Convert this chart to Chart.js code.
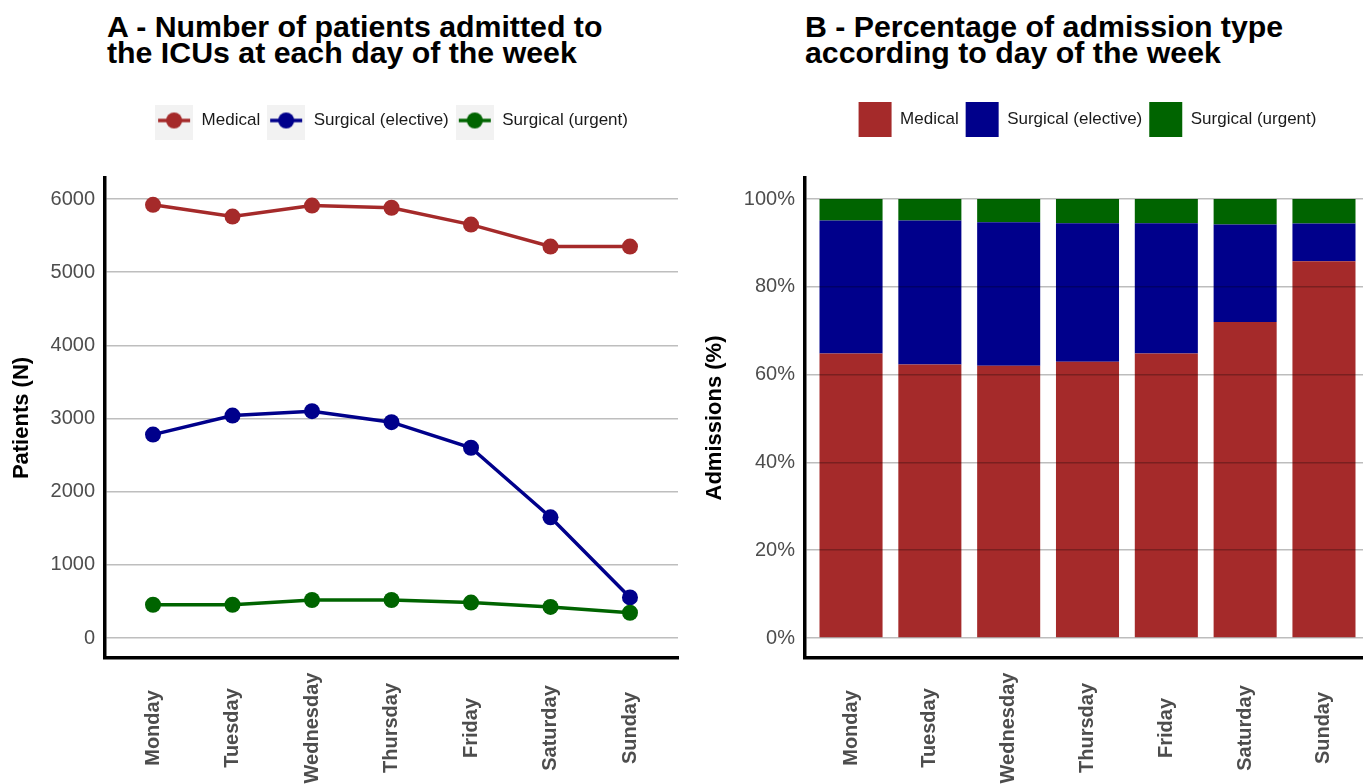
<!DOCTYPE html>
<html>
<head>
<meta charset="utf-8">
<script src="https://cdn.jsdelivr.net/npm/chart.js@4.4.1/dist/chart.umd.min.js"></script>
<style>
html, body { margin: 0; padding: 0; background: #fff; width: 1363px; height: 784px; overflow: hidden; position: relative; font-family: 'Liberation Sans', Arial, sans-serif; }
.ttl { position: absolute; top: 14px; font-weight: bold; font-size: 30.3px; line-height: 26px; color: #000; white-space: nowrap; }
.panel { position: absolute; top: 0; width: 690px; height: 784px; }
</style>
</head>
<body>
<div class="ttl" style="left:107px">A - Number of patients admitted to<br>the ICUs at each day of the week</div>
<div class="ttl" style="left:805px">B - Percentage of admission type<br>according to day of the week</div>
<div class="panel" style="left:0"><canvas id="chartA"></canvas></div>
<div class="panel" style="left:700px"><canvas id="chartB"></canvas></div>
<script>
"use strict";

var days = ['Monday', 'Tuesday', 'Wednesday', 'Thursday', 'Friday', 'Saturday', 'Sunday'];
var seriesNames = ['Medical', 'Surgical (elective)', 'Surgical (urgent)'];

// panel A - patients (N)
var medicalN = [5920, 5760, 5910, 5880, 5650, 5350, 5350];
var electiveN = [2780, 3040, 3100, 2950, 2600, 1650, 555];
var urgentN = [455, 455, 520, 520, 485, 425, 345];
var countTicks = [0, 1000, 2000, 3000, 4000, 5000, 6000];

// panel B - admissions (%)
var medicalPct = [64.8, 62.3, 62.0, 62.9, 64.8, 72.0, 85.8];
var electivePct = [30.3, 32.8, 32.7, 31.6, 29.7, 22.2, 8.6];
var urgentPct = [4.9, 4.9, 5.3, 5.5, 5.5, 5.8, 5.6];
var pctTicks = [0, 20, 40, 60, 80, 100];

var colors = ['#a52a2a', '#00008b', '#006400'];
var FONT = "'Liberation Sans', Arial, sans-serif";
var tickGray = '#4d4d4d';

Chart.defaults.font.family = FONT;
Chart.defaults.animation = false;

function toPoints(arr) {
	return arr.map(function (v, i) { return { x: i, y: v }; });
}

// legend key like ggplot: grey box, line and dot
function legendKey(color) {
	var c = document.createElement('canvas');
	c.width = 38; c.height = 38;
	var g = c.getContext('2d');
	g.fillStyle = '#f2f2f2';
	g.fillRect(0, 0, 38, 38);
	g.strokeStyle = color; g.lineWidth = 3.5;
	g.beginPath(); g.moveTo(3, 19); g.lineTo(35, 19); g.stroke();
	g.fillStyle = color;
	g.beginPath(); g.arc(19, 19, 8, 0, Math.PI * 2); g.fill();
	return c;
}
var keys = colors.map(legendKey);

// extra room under the legend
function legendGap(extra) {
	return {
		id: 'legendGap',
		beforeLayout: function (chart) {
			var lg = chart.legend;
			if (lg && !lg._gapDone) {
				var fit = lg.fit;
				lg.fit = function () { fit.call(this); this.height += extra; };
				lg._gapDone = true;
			}
		}
	};
}

// day names, rotated and centred under each category
var dayLabels = {
	id: 'dayLabels',
	afterDraw: function (chart) {
		var ctx = chart.ctx, xs = chart.scales.x;
		var mid = chart.chartArea.bottom + 70;
		ctx.save();
		ctx.font = 'bold 20px ' + FONT;
		ctx.fillStyle = tickGray;
		ctx.textAlign = 'center';
		ctx.textBaseline = 'middle';
		days.forEach(function (d, i) {
			ctx.save();
			ctx.translate(xs.getPixelForValue(i), mid);
			ctx.rotate(-Math.PI / 2);
			ctx.fillText(d, 0, 0);
			ctx.restore();
		});
		ctx.restore();
	}
};

function xScale(lo, hi) {
	return {
		type: 'linear', min: lo, max: hi, offset: false,
		ticks: { display: false, stepSize: 1, includeBounds: false },
		grid: { display: false, drawTicks: false, offset: false },
		border: { color: '#000', width: 3.5 },
		afterFit: function (s) { s.height = 126; }
	};
}

function yScale(lo, hi, step, tickList, fmt, titleText, titlePad, gridOpts, borderZ) {
	return {
		min: lo, max: hi,
		afterBuildTicks: function (s) {
			s.ticks = tickList.map(function (v) { return { value: v }; });
		},
		ticks: { stepSize: step, includeBounds: false, color: tickGray, padding: 10, font: { size: 20 }, callback: fmt },
		grid: gridOpts,
		border: { color: '#000', width: 3.5, z: borderZ },
		title: { display: true, text: titleText, color: '#000', font: { size: 22, weight: 'bold' }, padding: { top: titlePad, bottom: 0 } },
		afterFit: function (s) { s.width = 105; }
	};
}

// A - line chart
var lineSets = [medicalN, electiveN, urgentN].map(function (arr, i) {
	return {
		label: seriesNames[i],
		data: toPoints(arr),
		borderColor: colors[i],
		backgroundColor: colors[i],
		pointBackgroundColor: colors[i],
		borderWidth: 3.5,
		pointRadius: 8,
		pointBorderWidth: 0,
		tension: 0,
		order: 2 - i
	};
});

new Chart(document.getElementById('chartA'), {
	type: 'line',
	data: { datasets: lineSets },
	options: {
		responsive: true,
		maintainAspectRatio: false,
		events: [],
		layout: { padding: { top: 105, right: 12, left: 0, bottom: 0 } },
		plugins: {
			legend: {
				position: 'top',
				fullSize: false,
				labels: {
					usePointStyle: true,
					pointStyleWidth: 38,
					padding: 7,
					color: '#1a1a1a',
					font: { size: 17 },
					sort: function (a, b) { return a.datasetIndex - b.datasetIndex; },
					generateLabels: function (chart) {
						return Chart.defaults.plugins.legend.labels.generateLabels(chart).map(function (it) {
							it.pointStyle = keys[it.datasetIndex];
							return it;
						});
					}
				}
			},
			tooltip: { enabled: false }
		},
		scales: {
			x: xScale(-0.604, 6.604),
			y: yScale(-273, 6287, 1000, countTicks, function (v) { return v; }, 'Patients (N)', 9,
				{ color: '#bebebe', lineWidth: 1.6, drawTicks: false }, 0)
		}
	},
	plugins: [legendGap(39), dayLabels]
});

// B - stacked 100% bars
var barSets = [medicalPct, electivePct, urgentPct].map(function (arr, i) {
	return {
		label: seriesNames[i],
		data: toPoints(arr),
		backgroundColor: colors[i],
		borderWidth: 0,
		categoryPercentage: 0.8,
		barPercentage: 1.0
	};
});

var optsB = {
	responsive: true,
	maintainAspectRatio: false,
	events: [],
	layout: { padding: { top: 95, right: 20, left: 0, bottom: 0 } },
	plugins: {
		legend: {
			position: 'top',
			fullSize: false,
			labels: { boxWidth: 33, boxHeight: 35, padding: 7, color: '#1a1a1a', font: { size: 17 } }
		},
		tooltip: { enabled: false }
	},
	scales: {
		x: xScale(-0.584, 6.584),
		y: yScale(-4.556, 104.78, 20, pctTicks, function (v) { return v + '%'; }, 'Admissions (%)', 2,
			{ color: 'rgba(0,0,0,0.26)', lineWidth: 1.6, drawTicks: false, z: 1 }, 1)
	}
};
optsB.scales.x.stacked = true;
optsB.scales.y.stacked = true;

new Chart(document.getElementById('chartB'), {
	type: 'bar',
	data: { datasets: barSets },
	options: optsB,
	plugins: [legendGap(31), dayLabels]
});
</script>
</body>
</html>
